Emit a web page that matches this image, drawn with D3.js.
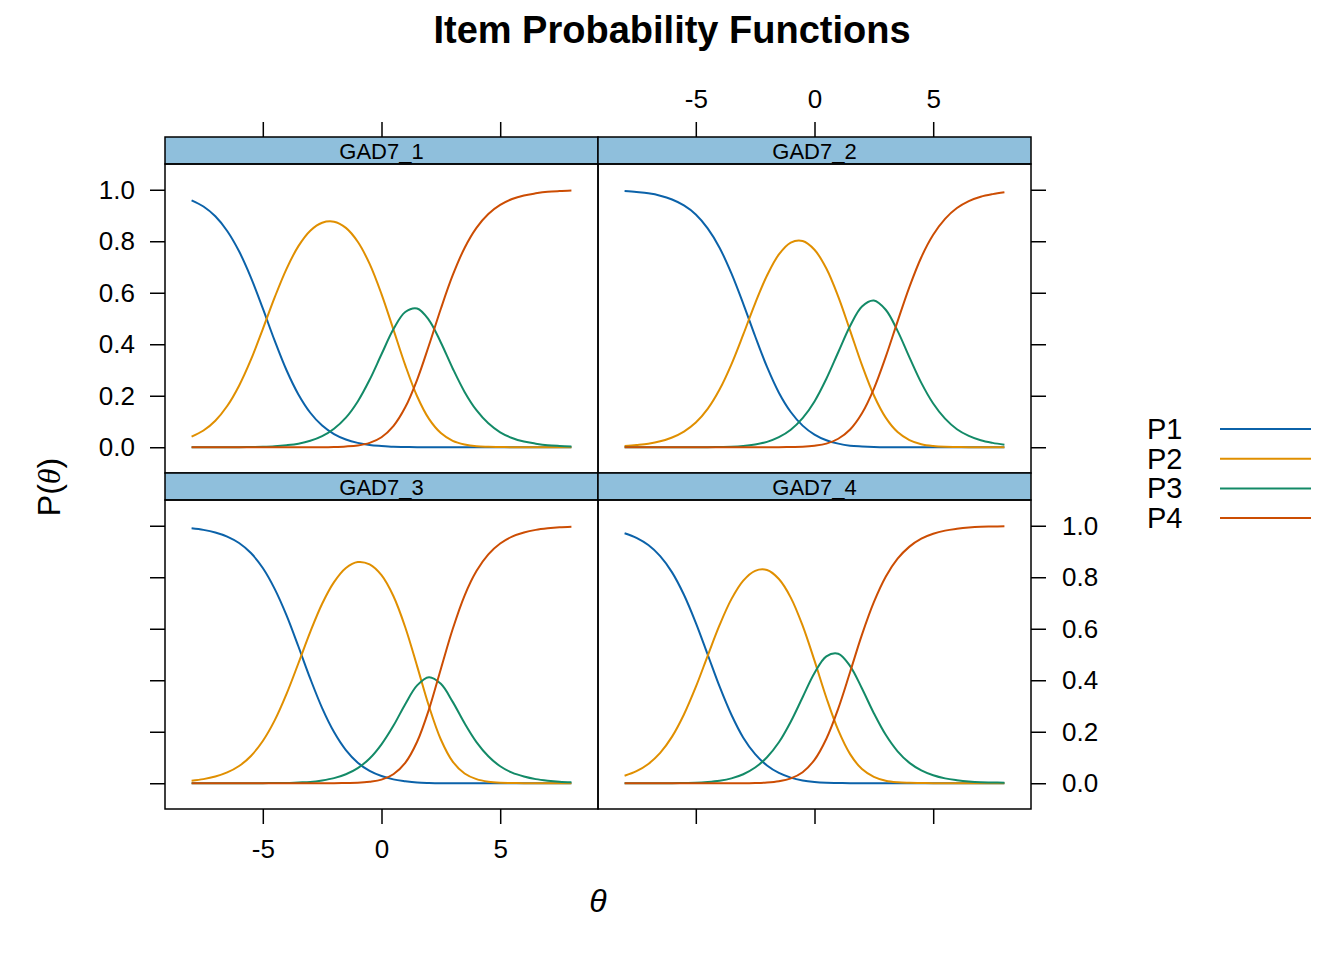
<!DOCTYPE html>
<html>
<head>
<meta charset="utf-8">
<script src="https://cdnjs.cloudflare.com/ajax/libs/d3/7.8.5/d3.min.js"></script>
<style>
  body { margin: 0; background: #fff; }
  text { font-family: "Liberation Sans", Arial, sans-serif; }
</style>
</head>
<body>
<svg id="chart" width="1344" height="960"></svg>
<script>
// theta grid the curves were read at
var theta = [-8, -7.5, -7, -6.5, -6, -5.5, -5, -4.5, -4, -3.5, -3, -2.5, -2, -1.5, -1, -0.5,
  0, 0.5, 1, 1.5, 2, 2.5, 3, 3.5, 4, 4.5, 5, 5.5, 6, 6.5, 7, 7.5, 8];

var items = ["GAD7_1", "GAD7_2", "GAD7_3", "GAD7_4"];
var categories = ["P1", "P2", "P3", "P4"];
var xTicks = [-5, 0, 5];
var yTicks = [0, 0.2, 0.4, 0.6, 0.8, 1.0];

// GAD7_1
var gad1_p1 = [0.959,0.935,0.897,0.840,0.761,0.659,0.539,0.414,0.299,0.205,0.134,0.084,0.051,0.030,0.017,0.009,0.005,0.002,0.001,0,0,0,0,0,0,0,0,0,0,0,0,0,0];
var gad1_p2 = [0.041,0.065,0.103,0.160,0.239,0.340,0.459,0.582,0.693,0.781,0.841,0.872,0.876,0.852,0.798,0.712,0.595,0.458,0.319,0.198,0.110,0.055,0.025,0.011,0.004,0.002,0.001,0,0,0,0,0,0];
var gad1_p3 = [0,0,0,0,0,0.001,0.002,0.004,0.008,0.014,0.025,0.043,0.072,0.115,0.178,0.262,0.361,0.458,0.525,0.539,0.494,0.407,0.306,0.215,0.144,0.093,0.058,0.036,0.022,0.014,0.008,0.005,0.003];
var gad1_p4 = [0,0,0,0,0,0,0,0,0,0,0,0,0.001,0.003,0.007,0.017,0.039,0.082,0.155,0.262,0.396,0.538,0.668,0.774,0.852,0.906,0.941,0.964,0.978,0.986,0.992,0.995,0.997];

// GAD7_2
var gad2_p1 = [0.995,0.991,0.986,0.977,0.962,0.939,0.904,0.850,0.775,0.675,0.557,0.431,0.312,0.212,0.137,0.084,0.049,0.027,0.014,0.006,0.003,0.001,0,0,0,0,0,0,0,0,0,0,0];
var gad2_p2 = [0.005,0.009,0.014,0.023,0.038,0.061,0.096,0.149,0.224,0.322,0.438,0.559,0.667,0.749,0.795,0.801,0.767,0.694,0.585,0.453,0.319,0.202,0.115,0.059,0.028,0.012,0.005,0.002,0.001,0,0,0,0];
var gad2_p3 = [0,0,0,0,0,0,0,0,0.001,0.002,0.005,0.011,0.021,0.039,0.068,0.113,0.178,0.266,0.369,0.471,0.547,0.570,0.534,0.452,0.349,0.250,0.170,0.111,0.070,0.044,0.027,0.017,0.010];
var gad2_p4 = [0,0,0,0,0,0,0,0,0,0,0,0,0,0,0.001,0.002,0.006,0.014,0.033,0.069,0.132,0.227,0.351,0.489,0.623,0.738,0.825,0.887,0.929,0.956,0.973,0.983,0.990];

// GAD7_3
var gad3_p1 = [0.990,0.984,0.974,0.958,0.933,0.894,0.836,0.755,0.652,0.531,0.406,0.292,0.199,0.129,0.080,0.048,0.028,0.015,0.008,0.003,0.001,0,0,0,0,0,0,0,0,0,0,0,0];
var gad3_p2 = [0.010,0.016,0.026,0.042,0.067,0.106,0.164,0.244,0.347,0.466,0.588,0.697,0.781,0.836,0.859,0.850,0.808,0.727,0.606,0.455,0.299,0.170,0.084,0.038,0.016,0.006,0.002,0.001,0,0,0,0,0];
var gad3_p3 = [0,0,0,0,0,0,0,0.001,0.001,0.003,0.005,0.011,0.020,0.035,0.059,0.096,0.151,0.223,0.307,0.380,0.412,0.386,0.316,0.233,0.160,0.105,0.066,0.041,0.026,0.016,0.010,0.006,0.004];
var gad3_p4 = [0,0,0,0,0,0,0,0,0,0,0,0,0,0.001,0.002,0.006,0.014,0.035,0.079,0.161,0.287,0.444,0.599,0.729,0.824,0.889,0.931,0.958,0.974,0.984,0.990,0.994,0.996];

// GAD7_4
var gad4_p1 = [0.971,0.953,0.925,0.882,0.819,0.732,0.623,0.500,0.376,0.266,0.177,0.113,0.069,0.040,0.022,0.011,0.005,0.002,0.001,0,0,0,0,0,0,0,0,0,0,0,0,0,0];
var gad4_p2 = [0.029,0.047,0.075,0.118,0.181,0.267,0.374,0.495,0.614,0.715,0.787,0.825,0.828,0.793,0.721,0.612,0.476,0.332,0.206,0.113,0.055,0.025,0.010,0.004,0.002,0.001,0,0,0,0,0,0,0];
var gad4_p3 = [0,0,0,0,0,0.001,0.002,0.005,0.010,0.019,0.035,0.061,0.101,0.159,0.239,0.334,0.428,0.493,0.503,0.455,0.368,0.272,0.188,0.124,0.079,0.050,0.031,0.019,0.012,0.007,0.004,0.003,0.002];
var gad4_p4 = [0,0,0,0,0,0,0,0,0,0,0,0.001,0.003,0.008,0.019,0.043,0.091,0.173,0.290,0.432,0.577,0.703,0.802,0.872,0.919,0.950,0.969,0.981,0.988,0.993,0.996,0.997,0.998];

var probs = {
  GAD7_1: [gad1_p1, gad1_p2, gad1_p3, gad1_p4],
  GAD7_2: [gad2_p1, gad2_p2, gad2_p3, gad2_p4],
  GAD7_3: [gad3_p1, gad3_p2, gad3_p3, gad3_p4],
  GAD7_4: [gad4_p1, gad4_p2, gad4_p3, gad4_p4]
};

var colors = ["#0b62a9", "#e08f00", "#138a67", "#cc4d03"];

// layout
var marginLeft = 165, marginTop = 137,
  panelW = 433, panelH = 309, stripH = 27, tickLen = 15;

var svg = d3.select("#chart");
svg.append("rect").attr("width", 1344).attr("height", 960).attr("fill", "#fff");

// title
svg.append("text")
  .attr("x", 672).attr("y", 43)
  .attr("text-anchor", "middle")
  .attr("font-size", 38).attr("font-weight", "bold")
  .text("Item Probability Functions");

var line = d3.line().curve(d3.curveCatmullRom);

function styleAxis(g, labels) {
  g.select(".domain").remove();
  g.selectAll(".tick line").attr("stroke", "#000").attr("stroke-width", 1.5);
  g.selectAll(".tick text")
    .attr("font-size", 26)
    .attr("font-family", '"Liberation Sans", Arial, sans-serif')
    .attr("fill", "#000")
    .text(function (d) { return this.textContent.replace("\u2212", "-"); });
  if (!labels) g.selectAll(".tick text").remove();
}

items.forEach(function (item, i) {
  var col = i % 2, row = Math.floor(i / 2);
  var x0 = marginLeft + col * panelW;
  var stripTop = marginTop + row * (stripH + panelH);
  var plotTop = stripTop + stripH;

  var x = d3.scaleLinear().domain([-9.12, 9.12]).range([x0, x0 + panelW]);
  var y = d3.scaleLinear().domain([-0.1, 1.1]).range([plotTop + panelH, plotTop]);

  var g = svg.append("g");

  // curves
  probs[item].forEach(function (vals, k) {
    var pts = theta.map(function (t, j) { return [x(t), y(vals[j])]; });
    g.append("path")
      .attr("d", line(pts))
      .attr("fill", "none")
      .attr("stroke", colors[k])
      .attr("stroke-width", 2);
  });

  // strip
  g.append("rect")
    .attr("x", x0).attr("y", stripTop)
    .attr("width", panelW).attr("height", stripH)
    .attr("fill", "#8fbfdc").attr("stroke", "#000").attr("stroke-width", 1.5);
  g.append("text")
    .attr("x", x0 + panelW / 2).attr("y", stripTop + stripH / 2 + 8)
    .attr("text-anchor", "middle")
    .attr("font-size", 22)
    .text(item);

  // panel border
  g.append("rect")
    .attr("x", x0).attr("y", plotTop)
    .attr("width", panelW).attr("height", panelH)
    .attr("fill", "none").attr("stroke", "#000").attr("stroke-width", 1.5);

  // alternating axes, lattice style
  if (row === 0) {
    g.append("g").attr("transform", "translate(0," + stripTop + ")")
      .call(d3.axisTop(x).tickValues(xTicks).tickSize(tickLen).tickPadding(14).tickFormat(d3.format("d")))
      .call(styleAxis, col === 1);
  } else {
    g.append("g").attr("transform", "translate(0," + (plotTop + panelH) + ")")
      .call(d3.axisBottom(x).tickValues(xTicks).tickSize(tickLen).tickPadding(16).tickFormat(d3.format("d")))
      .call(styleAxis, col === 0);
  }
  if (col === 0) {
    g.append("g").attr("transform", "translate(" + x0 + ",0)")
      .call(d3.axisLeft(y).tickValues(yTicks).tickSize(tickLen).tickPadding(15).tickFormat(d3.format(".1f")))
      .call(styleAxis, row === 0);
  } else {
    g.append("g").attr("transform", "translate(" + (x0 + panelW) + ",0)")
      .call(d3.axisRight(y).tickValues(yTicks).tickSize(tickLen).tickPadding(16).tickFormat(d3.format(".1f")))
      .call(styleAxis, row === 1);
  }
});

// axis labels
svg.append("text")
  .attr("x", 598).attr("y", 912)
  .attr("text-anchor", "middle")
  .attr("font-size", 32)
  .attr("font-family", '"Liberation Serif", "DejaVu Serif", serif')
  .attr("font-style", "italic")
  .text("\u03b8");

var ylab = svg.append("text")
  .attr("transform", "translate(60,487) rotate(-90)")
  .attr("text-anchor", "middle")
  .attr("font-size", 32);
ylab.append("tspan").text("P(");
ylab.append("tspan")
  .attr("font-family", '"Liberation Serif", "DejaVu Serif", serif')
  .attr("font-style", "italic")
  .text("\u03b8");
ylab.append("tspan").text(")");

// legend
var legend = svg.append("g");
categories.forEach(function (c, k) {
  var ly = 429 + k * 29.7;
  legend.append("text")
    .attr("x", 1147).attr("y", ly + 10)
    .attr("font-size", 29)
    .text(c);
  legend.append("line")
    .attr("x1", 1220).attr("x2", 1311)
    .attr("y1", ly).attr("y2", ly)
    .attr("stroke", colors[k]).attr("stroke-width", 2);
});
</script>
</body>
</html>
